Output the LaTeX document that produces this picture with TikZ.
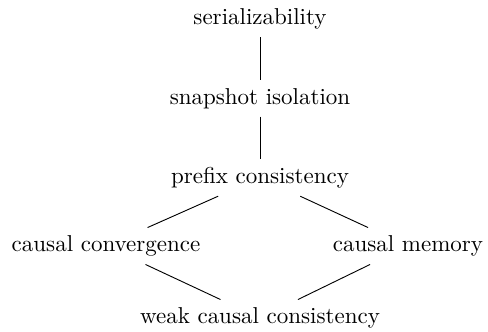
\documentclass[tikz,border=0pt]{standalone}

\begin{document}
\begin{tikzpicture}[x=0.435pt,y=-0.435pt,auto,node distance=34.5pt,main node/.style={font=\normalsize}]
                \useasboundingbox (0,0) rectangle (488,331);
                \node[main node] (ser) at (260,19) {serializability};
                \node[main node] (si) [below of=ser] {snapshot isolation};
                \node[main node] (pc) [below of=si] {prefix consistency};
                \node[main node] (cc) at (106,246) {causal convergence};
                \node[main node] (cm) at (408,246) {causal memory};
                \node[main node] (wcc) at (260,318) {weak causal consistency};

                \path
                    (ser) edge (si)
                    (si) edge (pc)
                    (pc) edge (cc)
                    (pc) edge (cm)
                    (cc) edge (wcc)
                    (cm) edge (wcc)
                ;

            \end{tikzpicture}
\end{document}
